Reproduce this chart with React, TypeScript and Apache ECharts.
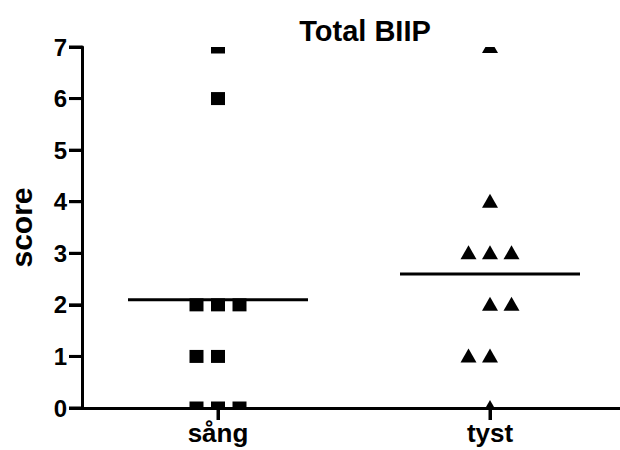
import React, { useEffect, useRef } from "react";
import * as echarts from "echarts";

const title = "Total BIIP";
const yAxisName = "score";
const categories = ["sång", "tyst"];
const yTicks = [0, 1, 2, 3, 4, 5, 6, 7];

// individual scores per group, with their horizontal jitter slot (-1, 0, +1)
const sangScores = [7, 6, 2, 2, 2, 1, 1, 0, 0, 0];
const sangSlots = [0, 0, -1, 0, 1, -1, 0, -1, 0, 1];
const tystScores = [7, 4, 3, 3, 3, 2, 2, 1, 1, 0];
const tystSlots = [0, 0, -1, 0, 1, 0, 1, -1, 0, 0];

const FONT = "'Liberation Sans', Arial, Helvetica, sans-serif";
const SLOT_PX = 21.5;
const MEAN_HALF = 90;
const Y_TICK_LEN = 13;
const X_TICK_LEN = 12;

const mean = (a: number[]) => a.reduce((s, v) => s + v, 0) / a.length;

export default function App() {
  const ref = useRef<HTMLDivElement>(null);
  useEffect(() => {
    if (!ref.current) return;
    const chart = echarts.init(ref.current, null, { renderer: "svg" });

    const sangData = sangScores.map((v, i) => [0, v, sangSlots[i]]);
    const tystData = tystScores.map((v, i) => [1, v, tystSlots[i]]);
    const meanData = [
      [0, mean(sangScores)],
      [1, mean(tystScores)],
    ];

    const pointRenderer = (shape: "square" | "triangle") => (params: any, api: any) => {
      const c = api.coord([api.value(0), api.value(1)]);
      const x = c[0] + api.value(2) * SLOT_PX;
      const y = c[1];
      if (shape === "square") {
        return {
          type: "rect",
          shape: { x: x - 7, y: y - 6.5, width: 14, height: 13 },
          style: { fill: "#000" },
        };
      }
      return {
        type: "polygon",
        shape: { points: [[x, y - 8], [x - 8, y + 6], [x + 8, y + 6]] },
        style: { fill: "#000" },
      };
    };

    chart.setOption({
      animation: false,
      backgroundColor: "#fff",
      title: {
        text: title,
        left: 360,
        textAlign: "center",
        top: 11,
        textStyle: { fontFamily: FONT, fontWeight: "bold", fontSize: 29, color: "#000" },
      },
      grid: {
        left: 82,
        top: 47,
        width: 544,
        height: 361,
        containLabel: false,
        outerBoundsMode: "none",
      },
      xAxis: {
        type: "category",
        data: categories,
        axisLine: { show: true, lineStyle: { color: "#000", width: 3 } },
        axisTick: {
          show: true,
          alignWithLabel: true,
          length: X_TICK_LEN,
          lineStyle: { color: "#000", width: 3 },
        },
        axisLabel: {
          fontFamily: FONT,
          fontWeight: "bold",
          fontSize: 26,
          color: "#000",
          margin: 12,
        },
        splitLine: { show: false },
      },
      yAxis: {
        type: "value",
        min: yTicks[0],
        max: yTicks[yTicks.length - 1],
        interval: 1,
        name: yAxisName,
        nameLocation: "middle",
        nameRotate: 90,
        nameGap: 46,
        nameTextStyle: { fontFamily: FONT, fontWeight: "bold", fontSize: 30, color: "#000" },
        axisLine: { show: true, lineStyle: { color: "#000", width: 3 } },
        axisTick: { show: true, length: Y_TICK_LEN, lineStyle: { color: "#000", width: 3 } },
        axisLabel: {
          fontFamily: FONT,
          fontWeight: "bold",
          fontSize: 24,
          color: "#000",
          margin: 15,
        },
        splitLine: { show: false },
      },
      series: [
        {
          type: "custom",
          name: "yTicks",
          clip: false,
          silent: true,
          data: yTicks.map((v) => [0, v]),
          renderItem: (params: any, api: any) => {
            const c = api.coord([0, api.value(1)]);
            const x0 = params.coordSys.x;
            return {
              type: "line",
              shape: { x1: x0 - Y_TICK_LEN, y1: c[1], x2: x0, y2: c[1] },
              style: { stroke: "#000", lineWidth: 3 },
            };
          },
          z: 5,
        },
        {
          type: "custom",
          name: "xTicks",
          clip: false,
          silent: true,
          data: categories.map((_, i) => [i, 0]),
          renderItem: (params: any, api: any) => {
            const c = api.coord([api.value(0), 0]);
            const y0 = params.coordSys.y + params.coordSys.height;
            return {
              type: "line",
              shape: { x1: c[0], y1: y0, x2: c[0], y2: y0 + X_TICK_LEN },
              style: { stroke: "#000", lineWidth: 3 },
            };
          },
          z: 5,
        },
        {
          type: "custom",
          name: categories[0],
          clip: true,
          data: sangData,
          renderItem: pointRenderer("square"),
          z: 3,
        },
        {
          type: "custom",
          name: categories[1],
          clip: true,
          data: tystData,
          renderItem: pointRenderer("triangle"),
          z: 3,
        },
        {
          type: "custom",
          name: "mean",
          data: meanData,
          renderItem: (params: any, api: any) => {
            const c = api.coord([api.value(0), api.value(1)]);
            return {
              type: "line",
              shape: { x1: c[0] - MEAN_HALF, y1: c[1], x2: c[0] + MEAN_HALF, y2: c[1] },
              style: { stroke: "#000", lineWidth: 3 },
            };
          },
          z: 4,
        },
      ],
    });
    return () => chart.dispose();
  }, []);

  return (
    <div
      ref={ref}
      style={{ position: "fixed", left: 0, top: 0, width: 620, height: 450, background: "#fff" }}
    />
  );
}
